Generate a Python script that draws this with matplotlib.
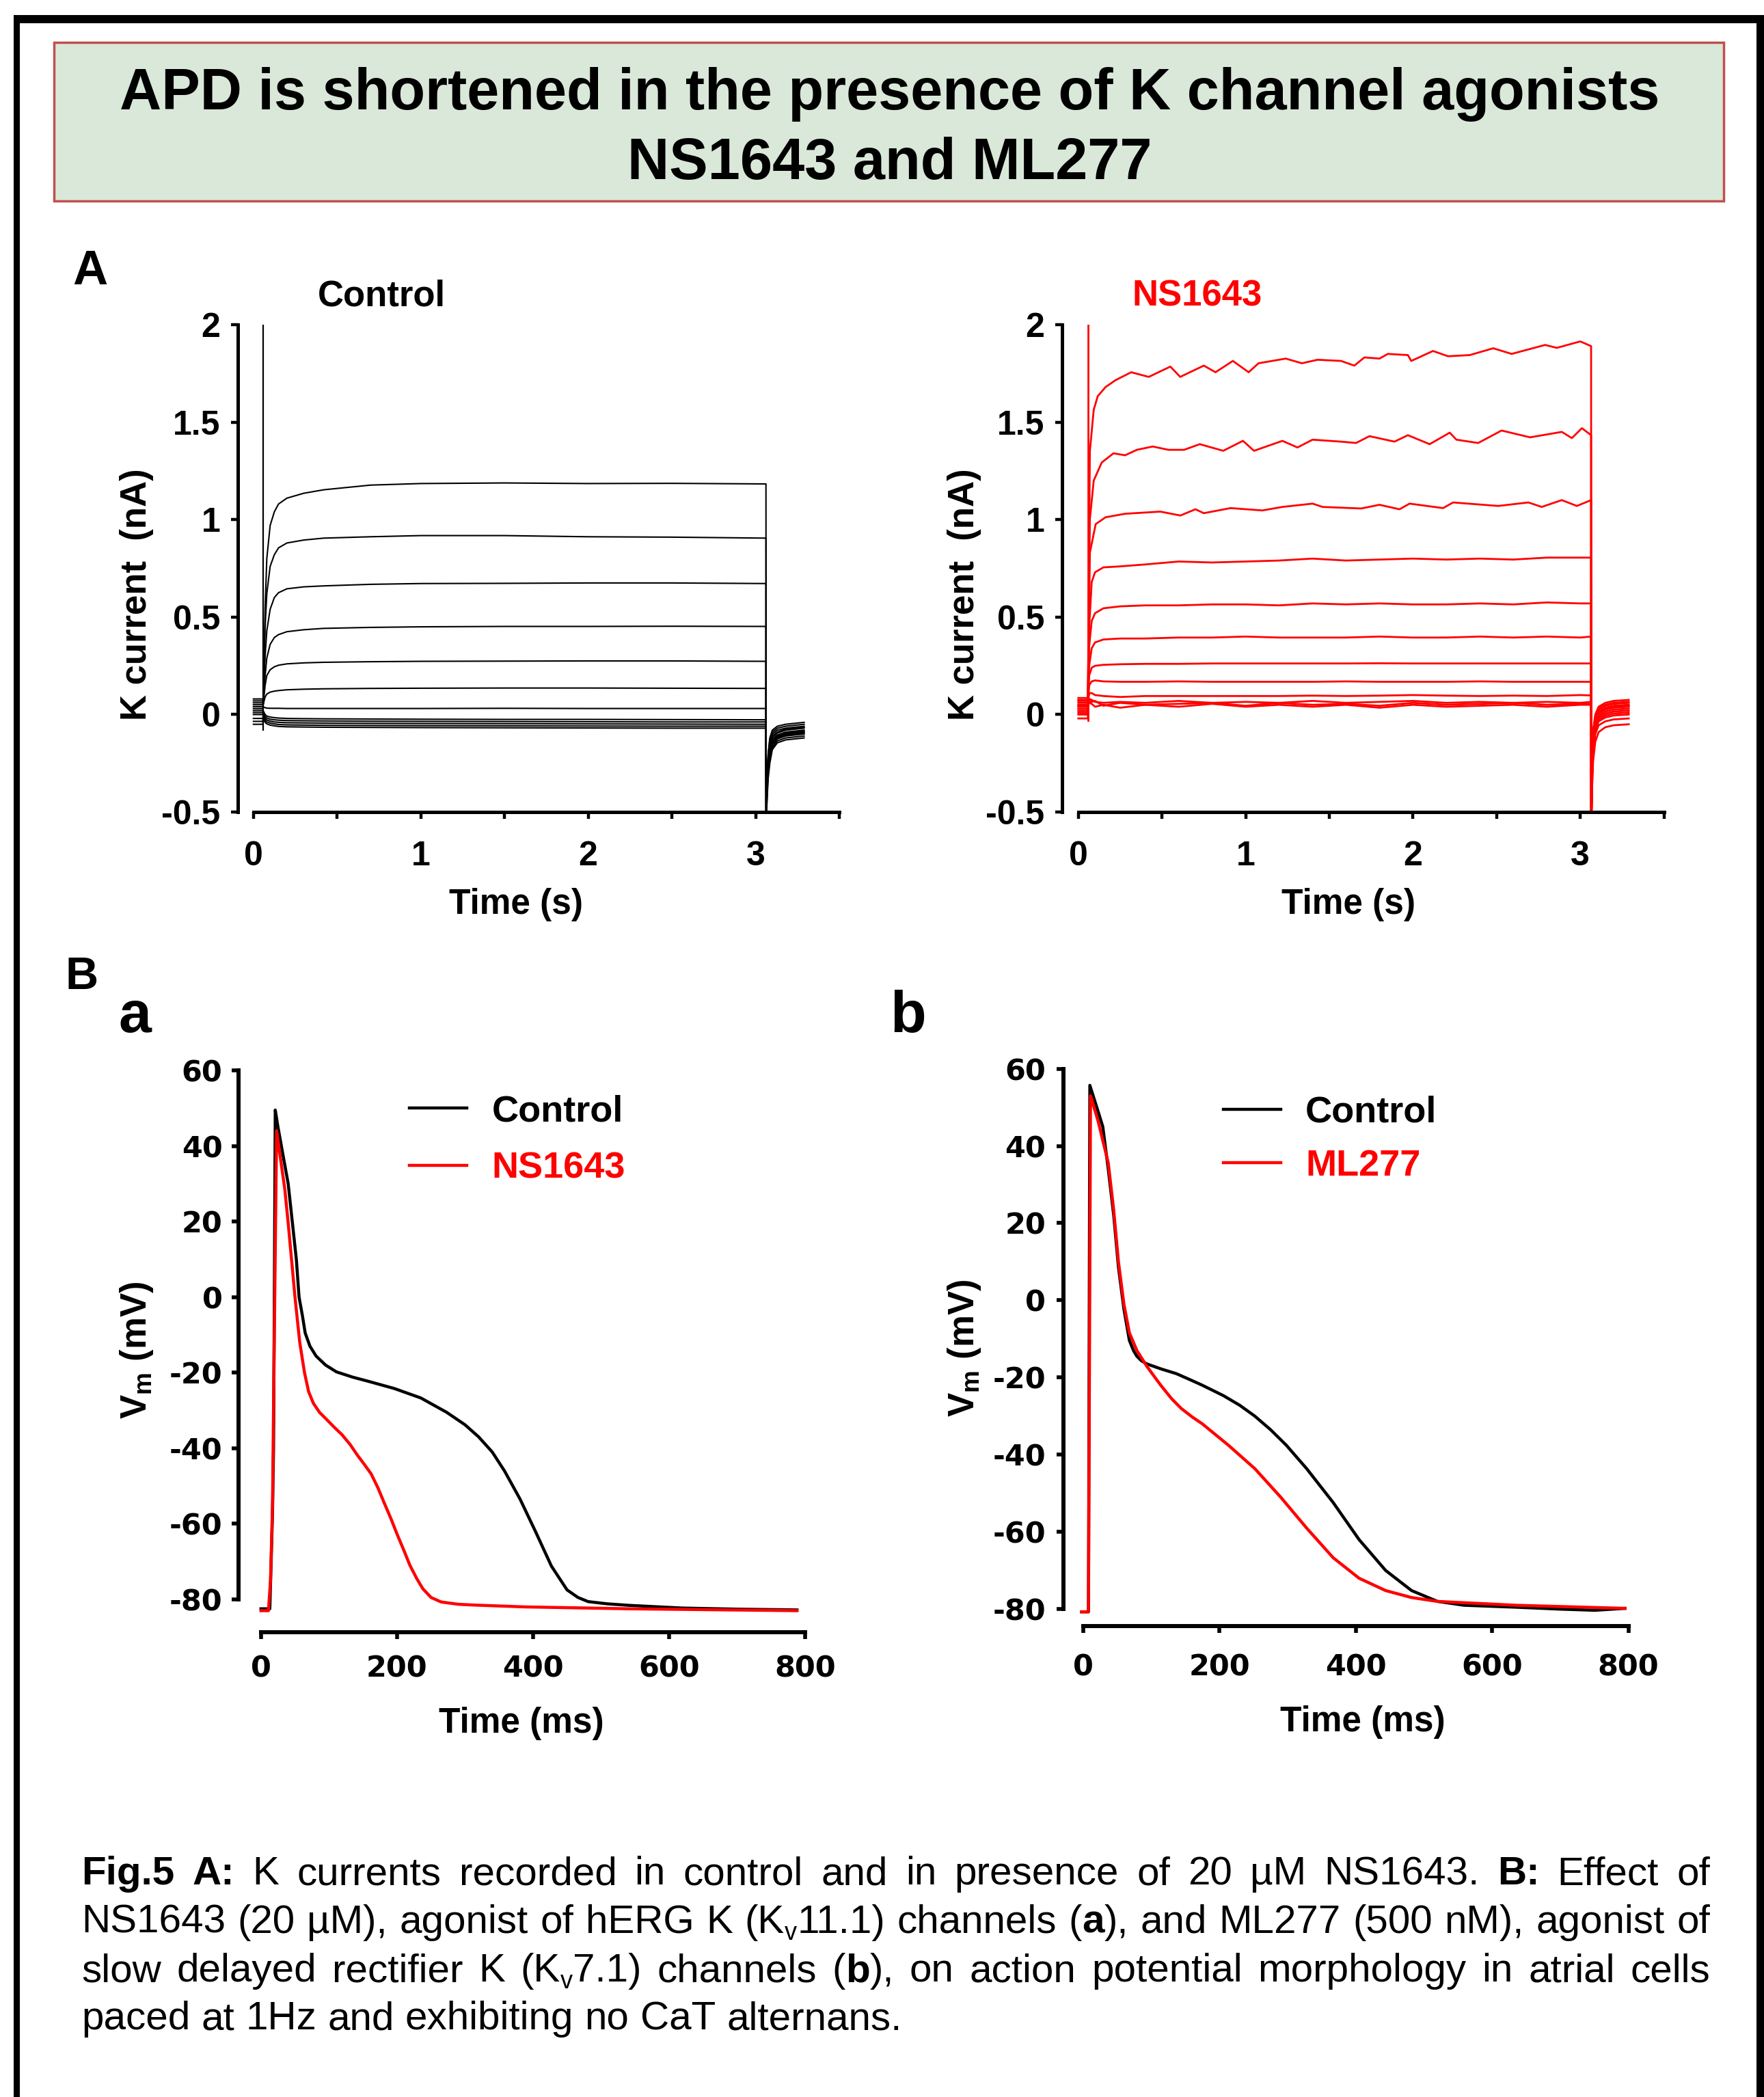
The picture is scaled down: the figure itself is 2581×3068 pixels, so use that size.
import re
import numpy as np
import matplotlib
matplotlib.use("Agg")
import matplotlib.pyplot as plt
from matplotlib.patches import Rectangle

plt.rcParams['font.family'] = ['Liberation Sans', 'DejaVu Sans']
plt.rcParams['font.weight'] = 'bold'
plt.rcParams['axes.labelweight'] = 'bold'
plt.rcParams['axes.unicode_minus'] = False
plt.rcParams['mathtext.fontset'] = 'custom'
plt.rcParams['mathtext.rm'] = 'Liberation Sans'
plt.rcParams['mathtext.bf'] = 'Liberation Sans:bold'
plt.rcParams['mathtext.it'] = 'Liberation Sans:italic'

# ---------------- data: panel A (K currents, nA vs s) ----------------
hold_t = [0.0, 0.057]
ctrl_hold = [0.08, 0.07, 0.06, 0.05, 0.04, 0.03, 0.02, 0.01, 0.0, -0.02, -0.035, -0.05]
ctrl_t = [0.058, 0.07, 0.08, 0.1, 0.125, 0.15, 0.2, 0.3, 0.42, 0.7, 1.0, 1.5, 2.0, 2.5, 3.062]
ctrl_i = [
    [0.05, 0.55, 0.80, 0.97, 1.04, 1.08, 1.11, 1.135, 1.153, 1.177, 1.185, 1.188, 1.185, 1.186, 1.183],
    [0.05, 0.45, 0.62, 0.76, 0.82, 0.855, 0.88, 0.895, 0.905, 0.912, 0.918, 0.918, 0.912, 0.91, 0.905],
    [0.05, 0.30, 0.43, 0.54, 0.60, 0.625, 0.645, 0.655, 0.66, 0.668, 0.672, 0.673, 0.675, 0.675, 0.672],
    [0.05, 0.20, 0.29, 0.36, 0.395, 0.41, 0.425, 0.435, 0.442, 0.447, 0.45, 0.452, 0.452, 0.453, 0.452],
    [0.05, 0.15, 0.20, 0.23, 0.245, 0.253, 0.26, 0.265, 0.268, 0.271, 0.273, 0.274, 0.275, 0.275, 0.273],
    [0.05, 0.09, 0.105, 0.115, 0.12, 0.123, 0.127, 0.13, 0.132, 0.134, 0.135, 0.136, 0.136, 0.135, 0.134],
    [0.04, 0.035, 0.033, 0.032, 0.032, 0.032, 0.031, 0.031, 0.031, 0.031, 0.031, 0.032, 0.031, 0.031, 0.031],
    [0.02, 0.0, -0.008, -0.013, -0.016, -0.018, -0.02, -0.021, -0.022, -0.023, -0.024, -0.025, -0.025, -0.026, -0.027],
    [0.01, -0.01, -0.018, -0.024, -0.027, -0.029, -0.031, -0.032, -0.033, -0.034, -0.035, -0.036, -0.037, -0.038, -0.038],
    [0.0, -0.02, -0.028, -0.034, -0.038, -0.04, -0.042, -0.043, -0.044, -0.045, -0.046, -0.047, -0.048, -0.049, -0.05],
    [-0.01, -0.03, -0.038, -0.044, -0.048, -0.051, -0.053, -0.054, -0.055, -0.056, -0.057, -0.058, -0.059, -0.06, -0.06],
    [-0.02, -0.04, -0.048, -0.054, -0.058, -0.061, -0.063, -0.064, -0.065, -0.066, -0.067, -0.068, -0.069, -0.07, -0.07],
]
ctrl_tail_t = [3.063, 3.068, 3.075, 3.085, 3.1, 3.13, 3.18, 3.29]
ctrl_tail = [
    [-0.6, -0.45, -0.33, -0.25, -0.18, -0.145, -0.13, -0.12],
    [-0.6, -0.43, -0.31, -0.23, -0.17, -0.135, -0.12, -0.11],
    [-0.6, -0.41, -0.29, -0.21, -0.16, -0.125, -0.11, -0.10],
    [-0.6, -0.40, -0.28, -0.20, -0.15, -0.12, -0.105, -0.095],
    [-0.6, -0.39, -0.27, -0.19, -0.145, -0.115, -0.10, -0.09],
    [-0.6, -0.38, -0.26, -0.18, -0.14, -0.11, -0.095, -0.085],
    [-0.6, -0.37, -0.25, -0.17, -0.13, -0.105, -0.09, -0.08],
    [-0.6, -0.36, -0.24, -0.16, -0.12, -0.095, -0.08, -0.07],
    [-0.6, -0.35, -0.23, -0.15, -0.11, -0.09, -0.075, -0.065],
    [-0.6, -0.34, -0.22, -0.14, -0.10, -0.08, -0.07, -0.06],
    [-0.6, -0.33, -0.21, -0.13, -0.09, -0.07, -0.06, -0.05],
    [-0.6, -0.32, -0.20, -0.12, -0.08, -0.06, -0.05, -0.04],
]
ctrl_spike_t = [0.058, 0.058]
ctrl_spike_i = [-0.08, 2.1]

ns_hold = [0.085, 0.075, 0.07, 0.06, 0.05, 0.045, 0.04, 0.03, 0.02, 0.01, 0.0, -0.02]
ns1_t = [0.057, 0.069, 0.092, 0.116, 0.163, 0.222, 0.316, 0.421, 0.55, 0.609, 0.75, 0.82, 0.924, 1.018,
         1.077, 1.24, 1.336, 1.43, 1.57, 1.65, 1.71, 1.80, 1.85, 1.97, 1.99, 2.12, 2.21, 2.34, 2.48, 2.59,
         2.69, 2.79, 2.86, 3.0, 3.065]
ns1_i = [0.05, 1.35, 1.563, 1.633, 1.68, 1.715, 1.756, 1.732, 1.785, 1.732, 1.79, 1.756, 1.814, 1.756,
         1.802, 1.826, 1.802, 1.82, 1.814, 1.79, 1.832, 1.826, 1.85, 1.844, 1.814, 1.865, 1.838, 1.844,
         1.879, 1.85, 1.873, 1.896, 1.881, 1.914, 1.89]
ns2_t = [0.057, 0.069, 0.092, 0.14, 0.21, 0.28, 0.35, 0.445, 0.538, 0.632, 0.726, 0.866, 0.984, 1.05,
         1.22, 1.31, 1.40, 1.57, 1.66, 1.74, 1.89, 1.97, 2.10, 2.22, 2.26, 2.39, 2.53, 2.70, 2.89, 2.95,
         3.01, 3.065]
ns2_i = [0.05, 1.0, 1.2, 1.293, 1.34, 1.33, 1.358, 1.375, 1.358, 1.358, 1.387, 1.353, 1.404, 1.353,
         1.404, 1.37, 1.41, 1.40, 1.393, 1.428, 1.40, 1.433, 1.387, 1.446, 1.41, 1.393, 1.457, 1.422,
         1.45, 1.418, 1.469, 1.433]
ns3_t = [0.057, 0.069, 0.104, 0.163, 0.28, 0.49, 0.61, 0.70, 0.75, 0.91, 1.10, 1.22, 1.40, 1.46, 1.69,
         1.80, 1.92, 1.98, 2.18, 2.24, 2.51, 2.69, 2.77, 2.89, 2.98, 3.065]
ns3_i = [0.05, 0.83, 0.977, 1.012, 1.03, 1.041, 1.021, 1.053, 1.033, 1.059, 1.047, 1.065, 1.082, 1.065,
         1.057, 1.076, 1.053, 1.082, 1.059, 1.088, 1.07, 1.088, 1.065, 1.10, 1.07, 1.10]
ns_t = [0.057, 0.065, 0.08, 0.1, 0.15, 0.25, 0.4, 0.6, 0.8, 1.0, 1.2, 1.4, 1.6, 1.8, 2.0, 2.2, 2.4, 2.6,
        2.8, 3.0, 3.065]
ns_i = [
    [0.05, 0.45, 0.68, 0.73, 0.755, 0.76, 0.77, 0.785, 0.78, 0.785, 0.79, 0.80, 0.79, 0.795, 0.80, 0.795, 0.80, 0.795, 0.805, 0.805, 0.805],
    [0.05, 0.35, 0.48, 0.52, 0.545, 0.555, 0.56, 0.56, 0.565, 0.565, 0.56, 0.57, 0.565, 0.57, 0.565, 0.565, 0.57, 0.565, 0.575, 0.57, 0.57],
    [0.05, 0.25, 0.34, 0.37, 0.385, 0.39, 0.39, 0.395, 0.395, 0.40, 0.395, 0.395, 0.395, 0.40, 0.395, 0.395, 0.40, 0.395, 0.40, 0.395, 0.40],
    [0.05, 0.20, 0.24, 0.25, 0.255, 0.258, 0.26, 0.26, 0.262, 0.262, 0.262, 0.262, 0.262, 0.263, 0.262, 0.262, 0.262, 0.262, 0.262, 0.262, 0.262],
    [0.05, 0.15, 0.17, 0.175, 0.17, 0.168, 0.168, 0.17, 0.168, 0.168, 0.168, 0.168, 0.17, 0.168, 0.168, 0.168, 0.17, 0.168, 0.168, 0.168, 0.168],
    [0.05, 0.11, 0.11, 0.10, 0.095, 0.09, 0.095, 0.095, 0.095, 0.095, 0.095, 0.097, 0.095, 0.097, 0.10, 0.097, 0.095, 0.097, 0.095, 0.10, 0.098],
    [0.05, 0.08, 0.075, 0.065, 0.06, 0.065, 0.06, 0.07, 0.06, 0.065, 0.06, 0.07, 0.06, 0.065, 0.07, 0.06, 0.065, 0.06, 0.065, 0.06, 0.065],
    [0.05, 0.07, 0.065, 0.07, 0.045, 0.06, 0.05, 0.055, 0.06, 0.045, 0.06, 0.05, 0.055, 0.045, 0.06, 0.05, 0.055, 0.06, 0.05, 0.055, 0.055],
    [0.05, 0.06, 0.055, 0.04, 0.05, 0.035, 0.05, 0.04, 0.055, 0.04, 0.05, 0.04, 0.05, 0.035, 0.05, 0.04, 0.045, 0.05, 0.04, 0.05, 0.05],
]
ns_tail_t = [3.066, 3.07, 3.077, 3.09, 3.11, 3.15, 3.2, 3.29]
ns_tail = [
    [-0.6, -0.25, -0.08, 0.0, 0.04, 0.06, 0.07, 0.075],
    [-0.6, -0.27, -0.10, -0.01, 0.03, 0.05, 0.06, 0.065],
    [-0.6, -0.28, -0.11, -0.02, 0.025, 0.045, 0.055, 0.06],
    [-0.6, -0.30, -0.12, -0.03, 0.015, 0.035, 0.045, 0.05],
    [-0.6, -0.31, -0.13, -0.035, 0.01, 0.03, 0.04, 0.045],
    [-0.6, -0.32, -0.14, -0.04, 0.005, 0.025, 0.035, 0.04],
    [-0.6, -0.33, -0.15, -0.05, -0.005, 0.015, 0.025, 0.03],
    [-0.6, -0.34, -0.16, -0.06, -0.015, 0.005, 0.015, 0.02],
    [-0.6, -0.35, -0.17, -0.07, -0.025, -0.005, 0.005, 0.01],
    [-0.6, -0.36, -0.18, -0.08, -0.035, -0.015, -0.005, 0.0],
    [-0.6, -0.38, -0.20, -0.10, -0.055, -0.035, -0.025, -0.02],
    [-0.6, -0.40, -0.24, -0.14, -0.09, -0.065, -0.055, -0.05],
]
ns_spike_t = [0.057, 0.057]
ns_spike_i = [-0.03, 2.1]

a_xticks = [0, 1, 2, 3]
a_xminor = [0.5, 1.5, 2.5, 3.5]
a_yticks = [-0.5, 0, 0.5, 1, 1.5, 2]
a_ylabels = ['-0.5', '0', '0.5', '1', '1.5', '2']

# ---------------- data: panel B (action potentials, mV vs ms) ----------------
apa_ctrl_t = [0, 13, 15, 17, 18.5, 21, 25, 32, 40, 46, 52, 56, 61, 65, 72, 81, 95, 111, 135, 158, 196,
              235, 273, 300, 320, 340, 358, 381, 404, 427, 450, 466, 481, 510, 542, 619, 700, 788]
apa_ctrl_v = [-82.5, -82.5, -70, -57, -40, 49.5, 45, 38, 30, 20, 10, 0, -5, -9.5, -13, -15.6, -18, -19.8,
              -21.2, -22.3, -24.2, -26.7, -30.5, -33.8, -37, -41, -46, -53.5, -62.2, -71.2, -77.5, -79.5,
              -80.6, -81.2, -81.6, -82.3, -82.6, -82.8]
apa_ns_t = [0, 11, 14, 17, 19, 23, 30, 35, 40, 50, 57, 64, 70, 77, 86, 96, 108, 119, 131, 142, 152, 162,
            172, 181, 191, 200, 210, 219, 229, 238, 250, 265, 290, 312, 388, 542, 788]
apa_ns_v = [-83, -83, -75, -55, -20, 44, 35, 28.6, 19.6, 0, -12, -20, -25, -28.1, -30.5, -32.3, -34.5,
            -36.4, -39, -41.9, -44.3, -46.8, -50.5, -54.4, -58.6, -62.7, -67, -71, -74.5, -77.2, -79.5,
            -80.7, -81.3, -81.5, -82, -82.5, -83]
apb_ctrl_t = [-2, 8, 10, 22, 29, 37, 45, 52, 60, 68, 74, 79, 86, 94, 115, 137, 160, 175, 206, 230, 252,
              275, 298, 328, 367, 405, 444, 482, 520, 559, 635, 700, 751, 795]
apb_ctrl_v = [-80.7, -80.7, 55.7, 49, 45, 34, 22, 8.5, -2.3, -10.4, -13, -14.5, -15.7, -16.5, -17.8,
              -19, -20.8, -22, -24.7, -27.2, -30, -33.5, -37.5, -43.6, -52.4, -62, -70, -75.2, -78, -79,
              -79.5, -80, -80.3, -79.8]
apb_ml_t = [-2, 8, 11, 22, 37, 45, 52, 60, 68, 79, 94, 114, 130, 144, 160, 175, 213, 252, 290, 328, 367,
            405, 444, 482, 520, 635, 795]
apb_ml_v = [-80.7, -80.7, 53, 46.5, 35.6, 23.4, 9.9, -1, -8.4, -13, -17.2, -22, -25.5, -28, -30.2, -32,
            -37.5, -43.6, -51, -59, -66.7, -72, -75.2, -77, -78, -79, -79.8]

b_xticks = [0, 200, 400, 600, 800]
b_yticks = [-80, -60, -40, -20, 0, 20, 40, 60]

# *...* = bold, ~...~ = subscript
caption = [
    "*Fig.5* *A:* K currents recorded in control and in presence of 20 µM NS1643. *B:* Effect of",
    "NS1643 (20 µM), agonist of hERG K (K~v~11.1) channels (*a*), and ML277 (500 nM), agonist of",
    "slow delayed rectifier K (K~v~7.1) channels (*b*), on action potential morphology in atrial cells",
    "paced at 1Hz and exhibiting no CaT alternans.",
]

# ---------------- figure ----------------
W, H = 2581, 3068
fig = plt.figure(figsize=(W / 100, H / 100), dpi=100)


def box(l, t, r, b):
    return [l / W, 1 - b / H, (r - l) / W, (b - t) / H]


def ftext(x, y, s, **kw):
    return fig.text(x / W, 1 - y / H, s, **kw)


# outer frame (open at the bottom)
for l, t, r, b in [(20, 22, 2581, 34), (20, 22, 29, 3068), (2570, 22, 2581, 3068)]:
    fig.add_artist(Rectangle((l / W, 1 - b / H), (r - l) / W, (b - t) / H,
                             transform=fig.transFigure, color='black', lw=0))

# title box
fig.add_artist(Rectangle((79 / W, 1 - 294 / H), (2522 - 79) / W, (294 - 62) / H,
                         transform=fig.transFigure, facecolor='#d9e8d9', edgecolor='#c0504d', lw=2.5))
ftext(1302, 160, 'APD is shortened in the presence of K channel agonists', ha='center', va='baseline',
      fontsize=61, weight='bold')
ftext(1302, 262, 'NS1643 and ML277', ha='center', va='baseline', fontsize=61, weight='bold')


def style_a(ax, xl):
    ax.set_xlim(xl, 3.5)
    ax.set_ylim(-0.5, 2)
    ax.patch.set_visible(False)
    for s in ['top', 'right']:
        ax.spines[s].set_visible(False)
    ax.spines['left'].set_bounds(-0.5, 2)
    ax.spines['bottom'].set_bounds(0, 3.5)
    for s in ['left', 'bottom']:
        ax.spines[s].set_linewidth(3.6)
        ax.spines[s].set_capstyle('projecting')
    ax.set_xticks(a_xticks)
    ax.set_xticklabels([str(v) for v in a_xticks])
    ax.set_xticks(a_xminor, minor=True)
    ax.set_yticks(a_yticks)
    ax.set_yticklabels(a_ylabels)
    ax.tick_params(which='both', direction='out', length=7.5, width=3.2, labelsize=36)
    ax.tick_params(axis='x', pad=23)
    ax.tick_params(axis='y', pad=11)


def style_b(ax, xl, yb, xpad, ypad):
    ax.set_xlim(xl, 800)
    ax.set_ylim(yb, 60)
    ax.patch.set_visible(False)
    for s in ['top', 'right']:
        ax.spines[s].set_visible(False)
    ax.spines['left'].set_bounds(-80, 60)
    ax.spines['bottom'].set_bounds(0, 800)
    for s in ['left', 'bottom']:
        ax.spines[s].set_linewidth(4.3)
        ax.spines[s].set_capstyle('projecting')
    ax.set_xticks(b_xticks)
    ax.set_xticklabels([str(v) for v in b_xticks])
    ax.set_yticks(b_yticks)
    ax.set_yticklabels([str(v) for v in b_yticks])
    ax.tick_params(direction='out', length=7.5, width=4, labelsize=31, labelfontfamily='DejaVu Sans')
    ax.tick_params(axis='x', pad=xpad)
    ax.tick_params(axis='y', pad=ypad)


# ---- A, control ----
ax1 = fig.add_axes(box(348, 475, 1228, 1188))
style_a(ax1, -0.093)
for k in range(len(ctrl_i)):
    ax1.plot(hold_t + ctrl_t + ctrl_tail_t,
             [ctrl_hold[k]] * 2 + ctrl_i[k] + ctrl_tail[k], color='black', lw=1.5)
ax1.plot(ctrl_spike_t, ctrl_spike_i, color='black', lw=1.6)
ax1.set_xlabel('Time (s)', fontsize=37, va='center')
ax1.xaxis.set_label_coords(0.4625, -0.19)
ax1.set_ylabel('K current  (nA)', fontsize=38, va='center', ha='center')
ax1.yaxis.set_label_coords(-0.168, 0.447)

# ---- A, NS1643 ----
ax2 = fig.add_axes(box(1554, 475, 2434.5, 1188))
style_a(ax2, -0.097)
red = '#ff0000'
ns_all = [(ns1_t, ns1_i), (ns2_t, ns2_i), (ns3_t, ns3_i)] + [(ns_t, v) for v in ns_i]
for k, (tt, vv) in enumerate(ns_all):
    ax2.plot(hold_t + tt + ns_tail_t, [ns_hold[k]] * 2 + vv + ns_tail[k], color=red, lw=2.0)
ax2.plot(ns_spike_t, ns_spike_i, color=red, lw=2.0)
ax2.set_xlabel('Time (s)', fontsize=37, va='center')
ax2.xaxis.set_label_coords(0.4758, -0.19)
ax2.set_ylabel('K current  (nA)', fontsize=38, va='center', ha='center')
ax2.yaxis.set_label_coords(-0.1624, 0.447)

ftext(558, 448, 'Control', ha='center', va='baseline', fontsize=38, weight='bold')
ftext(1752, 448, 'NS1643', ha='center', va='baseline', fontsize=38, weight='bold', color=red)

# ---- B a ----
ax3 = fig.add_axes(box(349, 1566, 1178, 2388))
style_b(ax3, -33, -88.7, 16, 9.5)
ax3.plot(apa_ctrl_t, apa_ctrl_v, color='black', lw=3.2, label='Control')
ax3.plot(apa_ns_t, apa_ns_v, color=red, lw=3.2, label='NS1643')
ax3.set_xlabel('Time (ms)', fontsize=37, va='center')
ax3.xaxis.set_label_coords(0.4994, -0.163)
ax3.set_ylabel(r'$\mathbf{V_m}$ (mV)', fontsize=38, va='center', ha='center')
ax3.yaxis.set_label_coords(-0.1797, 0.5024)

# ---- B b ----
ax4 = fig.add_axes(box(1556.3, 1563.6, 2382.6, 2378.5))
style_b(ax4, -28.4, -84.3, 21, 11.5)
ax4.plot(apb_ctrl_t, apb_ctrl_v, color='black', lw=3.2, label='Control')
ax4.plot(apb_ml_t, apb_ml_v, color=red, lw=3.2, label='ML277')
ax4.set_xlabel('Time (ms)', fontsize=37, va='center')
ax4.xaxis.set_label_coords(0.5295, -0.1736)
ax4.set_ylabel(r'$\mathbf{V_m}$ (mV)', fontsize=38, va='center', ha='center')
ax4.yaxis.set_label_coords(-0.1762, 0.4988)

for ax, anchor, sp in [(ax3, (0.3016, 0.957), 0.62), (ax4, (0.2828, 0.952), 0.53)]:
    leg = ax.legend(loc='upper left', bbox_to_anchor=anchor, frameon=False, fontsize=39,
                    handlelength=1.55, handletextpad=0.67, labelspacing=sp,
                    borderpad=0, borderaxespad=0)
    for txt, c in zip(leg.get_texts(), ['black', red]):
        txt.set_color(c)

# panel letters
ftext(132, 416, 'A', ha='center', va='baseline', fontsize=51, weight='bold')
ftext(120, 1447, 'B', ha='center', va='baseline', fontsize=48, weight='bold')
ftext(197, 1510, 'a', ha='center', va='baseline', fontsize=62, weight='bold')
ftext(1329, 1510, 'b', ha='center', va='baseline', fontsize=62, weight='bold')

# caption, justified like the original
renderer = fig.canvas.get_renderer()
cap_fs = 42
cap_left, cap_right = 119, 2502
cap_base = [2757, 2828, 2899, 2969]
for li, line in enumerate(caption):
    words = []
    for w in line.split(' '):
        pieces = []
        for s in re.split(r'(\*[^*]+\*|~[^~]+~)', w):
            if s == '':
                continue
            dy, fs, wt = 0, cap_fs, 'normal'
            if s.startswith('*'):
                s, wt = s[1:-1], 'bold'
            elif s.startswith('~'):
                s, fs, dy = s[1:-1], cap_fs * 0.62, 10
            t = ftext(0, cap_base[li] + dy, s, ha='left', va='baseline', fontsize=fs, weight=wt)
            pieces.append((t, t.get_window_extent(renderer).width))
        words.append(pieces)
    total = sum(wd for p in words for _, wd in p)
    if li < len(caption) - 1:
        gap = (cap_right - cap_left - total) / (len(words) - 1)
    else:
        gap = 0.278 * cap_fs * 100 / 72
    x = cap_left
    for pieces in words:
        for t, wd in pieces:
            t.set_x(x / W)
            x += wd
        x += gap

fig.savefig('out.png', dpi=100)
